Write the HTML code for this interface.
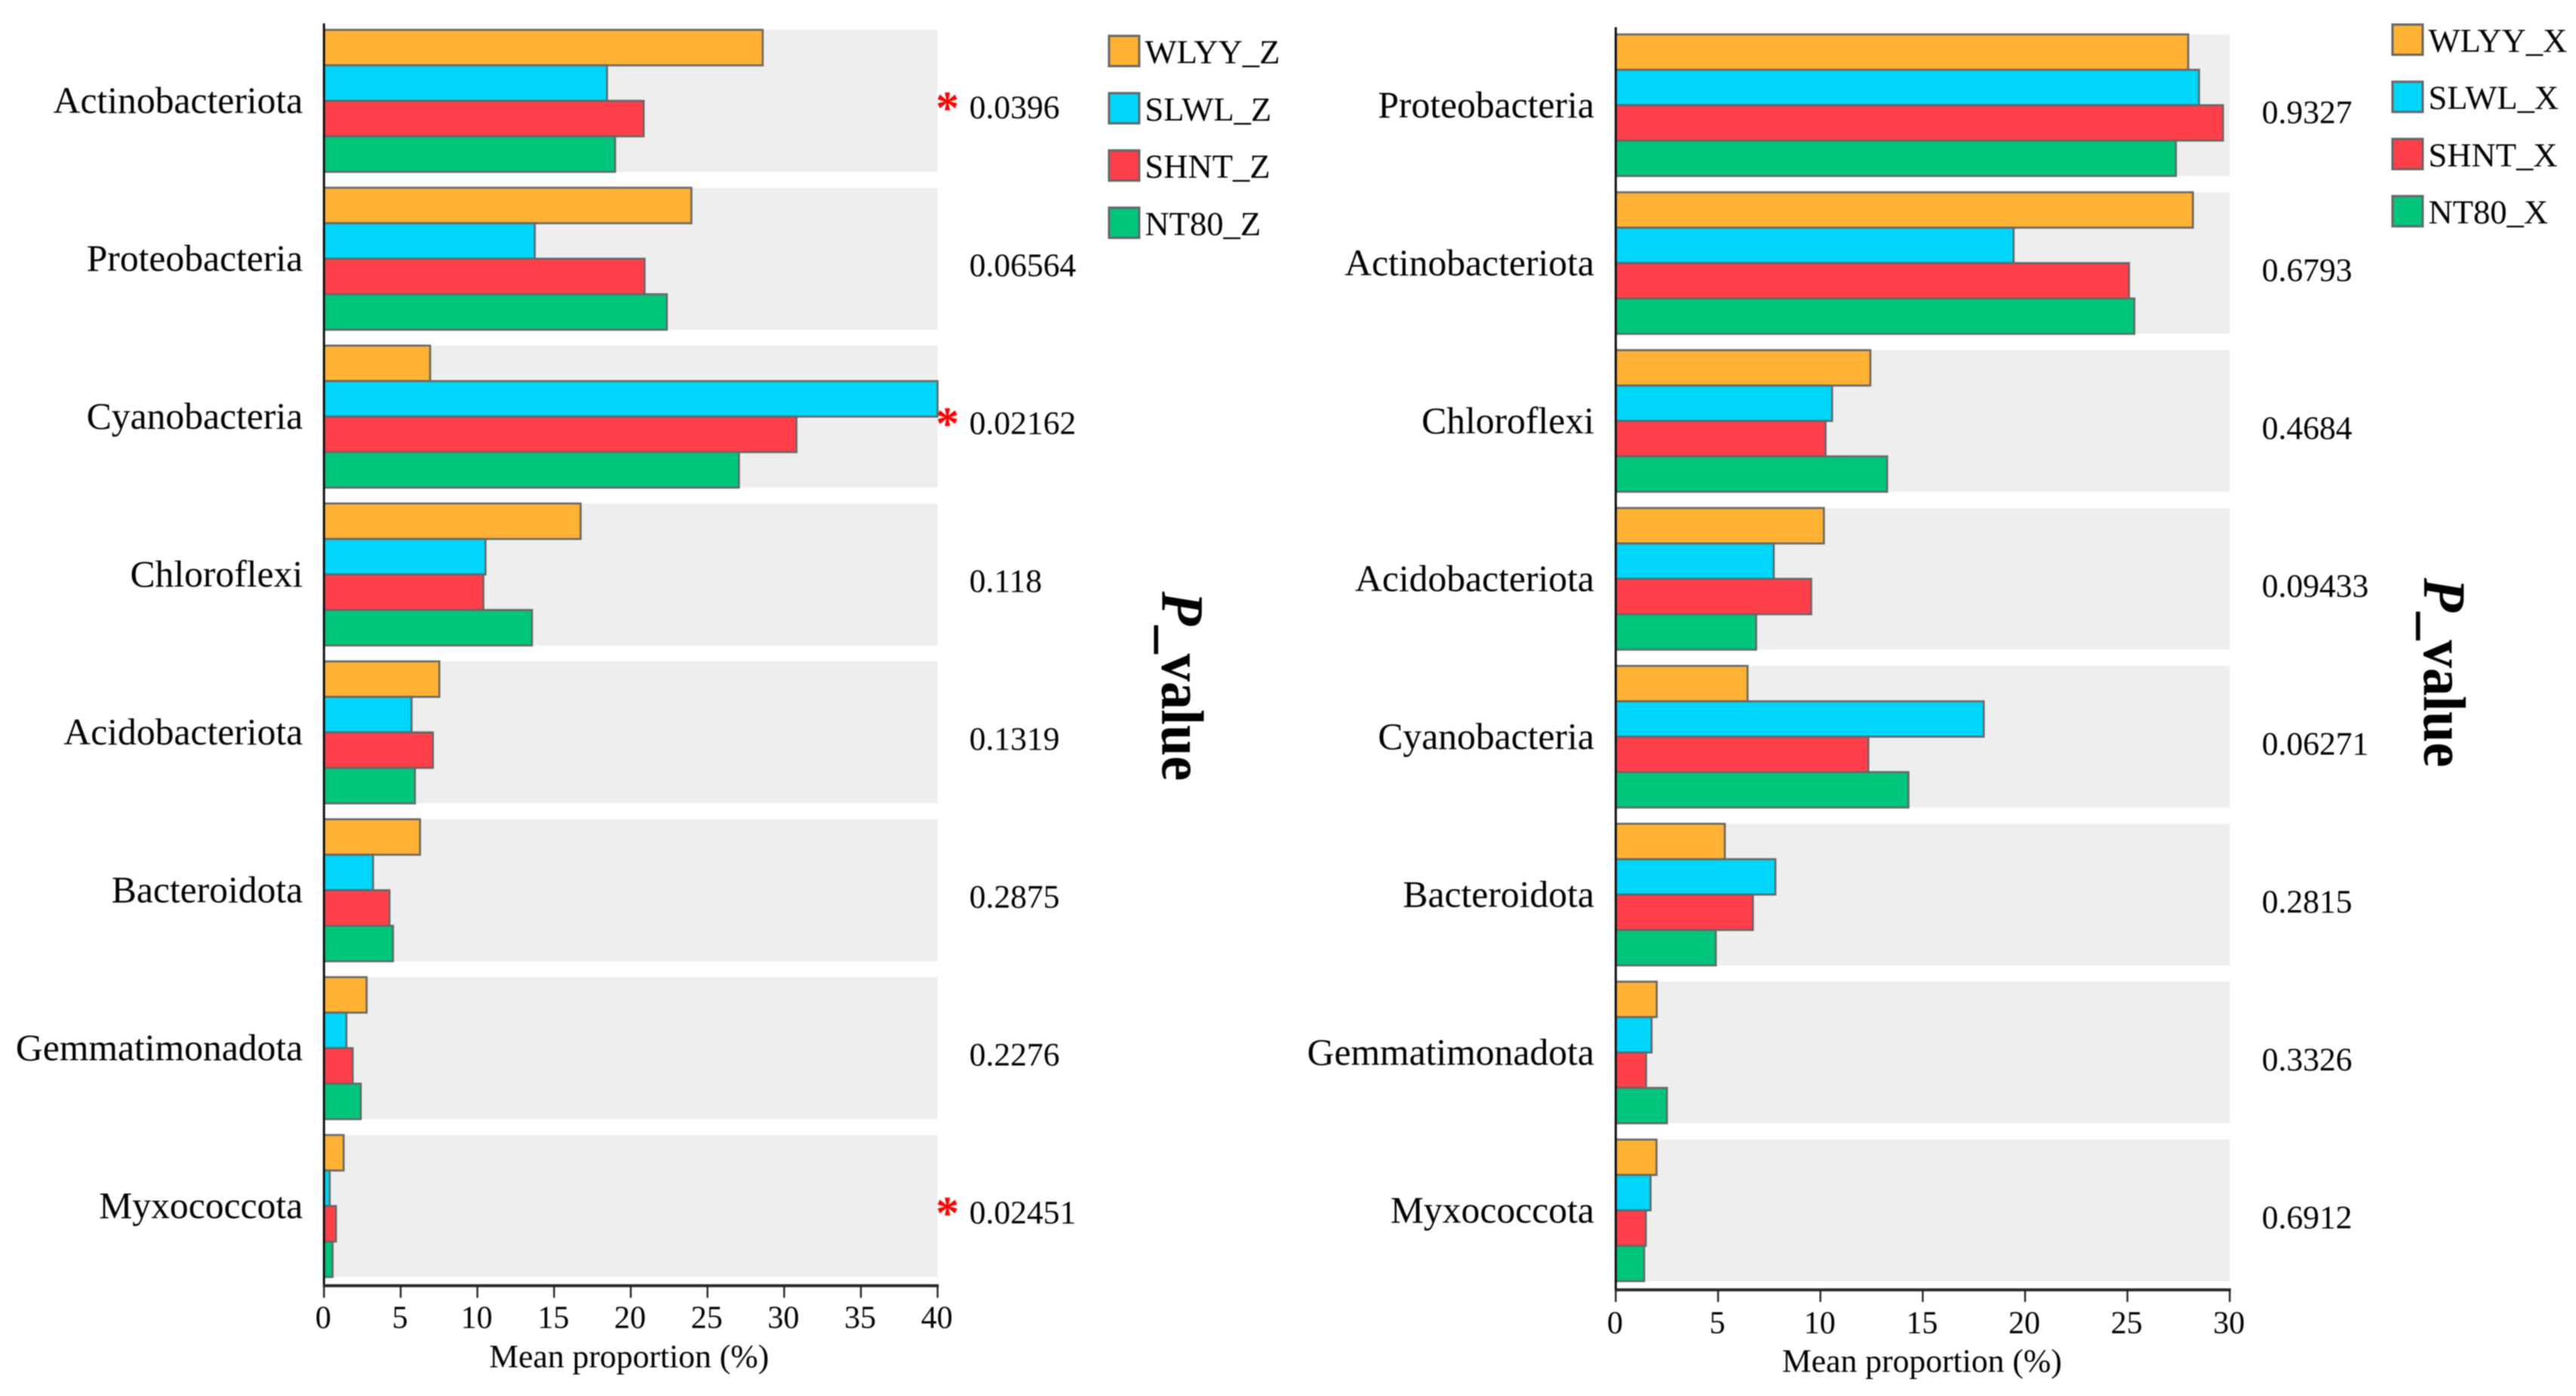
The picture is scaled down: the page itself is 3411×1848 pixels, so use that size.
<!DOCTYPE html>
<html lang="en">
<head>
<meta charset="utf-8">
<title>Mean proportion of bacterial phyla by group</title>
<style>
  html, body { margin: 0; padding: 0; background: #ffffff; }
  body { width: 3411px; height: 1848px; overflow: hidden; }
  #figure { display: block; filter: blur(0.7px); }
  text { font-family: "Liberation Serif", "Times New Roman", serif; fill: #000; }
</style>
</head>
<body>
<svg id="figure" xmlns="http://www.w3.org/2000/svg" width="3411" height="1848" viewBox="0 0 3411 1848"></svg>
<script>
// ---------- Left panel data (_Z) ----------
const leftCategories = ["Actinobacteriota", "Proteobacteria", "Cyanobacteria", "Chloroflexi", "Acidobacteriota", "Bacteroidota", "Gemmatimonadota", "Myxococcota"];
const leftWLYY = [28.6, 23.95, 6.92, 16.73, 7.52, 6.26, 2.78, 1.28];
const leftSLWL = [18.45, 13.74, 40, 10.53, 5.71, 3.2, 1.46, 0.37];
const leftSHNT = [20.84, 20.9, 30.8, 10.39, 7.1, 4.27, 1.87, 0.78];
const leftNT80 = [18.98, 22.35, 27.05, 13.56, 5.93, 4.5, 2.4, 0.56];
const leftPValues = ["0.0396", "0.06564", "0.02162", "0.118", "0.1319", "0.2875", "0.2276", "0.02451"];
const leftSignificant = [true, false, true, false, false, false, false, true];
const leftTicks = [0, 5, 10, 15, 20, 25, 30, 35, 40];
const leftLegend = ["WLYY_Z", "SLWL_Z", "SHNT_Z", "NT80_Z"];

// ---------- Right panel data (_X) ----------
const rightCategories = ["Proteobacteria", "Actinobacteriota", "Chloroflexi", "Acidobacteriota", "Cyanobacteria", "Bacteroidota", "Gemmatimonadota", "Myxococcota"];
const rightWLYY = [27.97, 28.2, 12.44, 10.17, 6.44, 5.33, 2.0, 1.99];
const rightSLWL = [28.5, 19.44, 10.57, 7.72, 17.98, 7.8, 1.75, 1.7];
const rightSHNT = [29.67, 25.08, 10.25, 9.55, 12.34, 6.7, 1.48, 1.47];
const rightNT80 = [27.37, 25.34, 13.26, 6.86, 14.3, 4.89, 2.5, 1.39];
const rightPValues = ["0.9327", "0.6793", "0.4684", "0.09433", "0.06271", "0.2815", "0.3326", "0.6912"];
const rightSignificant = [false, false, false, false, false, false, false, false];
const rightTicks = [0, 5, 10, 15, 20, 25, 30];
const rightLegend = ["WLYY_X", "SLWL_X", "SHNT_X", "NT80_X"];

const seriesColors = ["#FFB233", "#00D5FA", "#FF3F49", "#00C67C"];
const seriesKeys = ["wlyy", "slwl", "shnt", "nt80"];

const svgNS = "http://www.w3.org/2000/svg";
const figure = document.getElementById("figure");

function make(parent, tag, attrs, content) {
  const el = document.createElementNS(svgNS, tag);
  for (const k in attrs) el.setAttribute(k, attrs[k]);
  if (content !== undefined) el.textContent = content;
  parent.appendChild(el);
  return el;
}

function drawPanel(prefix, d, g) {
  const domainMax = d.ticks[d.ticks.length - 1];
  const xScale = v => g.x0 + (v / domainMax) * (g.x1 - g.x0);
  const bandTop = i => g.top + i * g.period;
  const barH = g.band / 4;

  const panel = make(figure, "g", {});
  
  

  // background bands, category labels, p-values, markers
  d.categories.forEach((cat, i) => {
    const band = make(panel, "rect", { x: g.x0, y: bandTop(i), width: g.x1 - g.x0, height: g.band, fill: "#EEEEEE" });
    
    

    const label = make(panel, "text", { x: g.labelRight, y: bandTop(i) + g.labelDy, "text-anchor": "end", "font-size": 49.6 }, cat);
    
    

    const pv = make(panel, "text", { x: g.pX, y: bandTop(i) + g.pDy, "font-size": 43.5 }, d.pValues[i]);
    
    

    if (d.significant[i]) {
      const star = make(panel, "text", { x: g.starX, y: bandTop(i) + g.starDy, "text-anchor": "middle", "font-size": 62, "font-weight": "bold", style: "fill:#FF0000" }, "*");
      
      
    }
  });

  // bars
  d.series.forEach((vals, s) => {
    vals.forEach((v, i) => {
      const bar = make(panel, "rect", {
        x: g.x0, y: bandTop(i) + s * barH,
        width: xScale(v) - g.x0, height: barH,
        fill: seriesColors[s], stroke: "#666666", "stroke-width": 2.6
      });
      
      
    });
  });

  // axes
  const yAxis = make(panel, "line", { x1: g.x0, x2: g.x0, y1: g.axisTop, y2: g.axisY + 1, stroke: "#111", "stroke-width": 3 });
  
  

  const xAxis = make(panel, "line", { x1: g.x0 - 1, x2: g.x1 + 1.5, y1: g.axisY, y2: g.axisY, stroke: "#2a2a2a", "stroke-width": 4 });
  
  

  d.ticks.forEach(t => {
    const tick = make(panel, "line", { x1: xScale(t), x2: xScale(t), y1: g.axisY, y2: g.axisY + 16, stroke: "#222", "stroke-width": 2.4 });
    
    

    const tl = make(panel, "text", { x: xScale(t) - 1, y: g.tickBaseline, "text-anchor": "middle", "font-size": 42 }, String(t));
    
    
  });

  const axisTitle = make(panel, "text", { x: g.titleX, y: g.titleY, "text-anchor": "middle", "font-size": 43.6 }, "Mean proportion (%)");
  
  

  // legend
  d.legend.forEach((name, s) => {
    const sw = make(panel, "rect", { x: g.legendX, y: g.legendY + s * g.legendStep, width: 40, height: 40, fill: seriesColors[s], stroke: "#666666", "stroke-width": 3 });
    
    

    const lt = make(panel, "text", { x: g.legendX + 47.5, y: g.legendY + s * g.legendStep + 36, "font-size": 44.6 }, name);
    
    
  });

  // rotated P_value title (glyphs are slightly taller than wide in the source)
  const pTitle = make(panel, "text", {
    x: 0, y: 0, "font-size": 74, "font-weight": "bold",
    transform: "translate(" + g.pTitleX + " " + g.pTitleY + ") rotate(90) scale(1 1.08)"
  });
  
  
  make(pTitle, "tspan", { "font-style": "italic" }, "P");
  make(pTitle, "tspan", {}, "_value");
}

drawPanel("left", {
  categories: leftCategories,
  series: [leftWLYY, leftSLWL, leftSHNT, leftNT80],
  pValues: leftPValues, significant: leftSignificant,
  ticks: leftTicks, legend: leftLegend
}, {
  x0: 429, x1: 1241.5, top: 39.5, period: 209, band: 188,
  labelRight: 401, labelDy: 110, pX: 1283.5, pDy: 117, starX: 1254.5, starDy: 124,
  axisTop: 31, axisY: 1702, tickBaseline: 1758, titleX: 833, titleY: 1810,
  legendX: 1468.5, legendY: 47.5, legendStep: 75.8,
  pTitleX: 1539, pTitleY: 783
});

drawPanel("right", {
  categories: rightCategories,
  series: [rightWLYY, rightSLWL, rightSHNT, rightNT80],
  pValues: rightPValues, significant: rightSignificant,
  ticks: rightTicks, legend: rightLegend
}, {
  x0: 2139.5, x1: 2952.5, top: 45.5, period: 209, band: 187.5,
  labelRight: 2111, labelDy: 110, pX: 2995, pDy: 117.5, starX: 0, starDy: 0,
  axisTop: 36, axisY: 1707.5, tickBaseline: 1765, titleX: 2545, titleY: 1816,
  legendX: 3168, legendY: 32.5, legendStep: 75.7,
  pTitleX: 3210, pTitleY: 765
});
</script>
</body>
</html>
